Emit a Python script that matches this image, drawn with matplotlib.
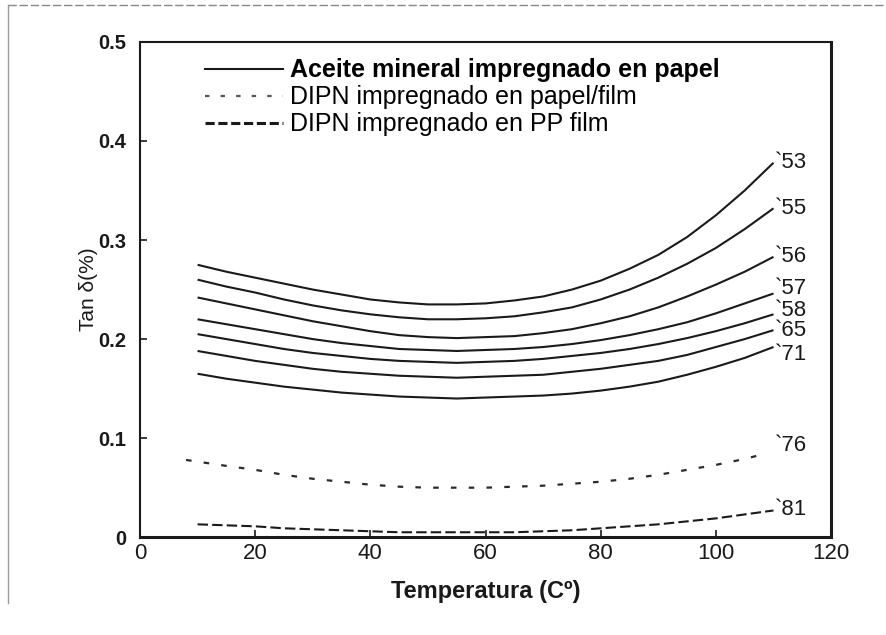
import matplotlib
matplotlib.use('Agg')
from matplotlib import pyplot as plt
from matplotlib.lines import Line2D

plt.rcParams['font.family'] = ['Liberation Sans', 'DejaVu Sans']

# temperature (C)
temp = [10, 15, 20, 25, 30, 35, 40, 45, 50, 55, 60, 65, 70, 75, 80, 85, 90, 95, 100, 105, 110]
temp_76 = [8, 15, 20, 25, 30, 35, 40, 45, 50, 55, 60, 65, 70, 75, 80, 85, 90, 95, 100, 105, 109]

# aceite mineral impregnado en papel
years_oil = ['`53', '`55', '`56', '`57', '`58', '`65', '`71']
tan_oil = [
    [0.275, 0.268, 0.262, 0.256, 0.250, 0.245, 0.240, 0.237, 0.235, 0.235, 0.236,
     0.239, 0.243, 0.250, 0.259, 0.271, 0.285, 0.303, 0.325, 0.350, 0.378],
    [0.260, 0.253, 0.247, 0.240, 0.234, 0.229, 0.225, 0.222, 0.220, 0.220, 0.221,
     0.223, 0.227, 0.232, 0.240, 0.250, 0.262, 0.276, 0.292, 0.311, 0.332],
    [0.242, 0.236, 0.230, 0.224, 0.218, 0.213, 0.208, 0.204, 0.202, 0.201, 0.202,
     0.203, 0.206, 0.210, 0.216, 0.223, 0.232, 0.243, 0.255, 0.268, 0.283],
    [0.220, 0.215, 0.210, 0.205, 0.200, 0.196, 0.193, 0.190, 0.189, 0.188, 0.189,
     0.190, 0.192, 0.195, 0.199, 0.204, 0.210, 0.217, 0.226, 0.236, 0.246],
    [0.205, 0.200, 0.195, 0.190, 0.186, 0.183, 0.180, 0.178, 0.177, 0.176, 0.177,
     0.178, 0.180, 0.183, 0.186, 0.190, 0.195, 0.201, 0.208, 0.216, 0.225],
    [0.188, 0.183, 0.178, 0.174, 0.170, 0.167, 0.165, 0.163, 0.162, 0.161, 0.162,
     0.163, 0.164, 0.167, 0.170, 0.174, 0.178, 0.184, 0.192, 0.200, 0.209],
    [0.165, 0.160, 0.156, 0.152, 0.149, 0.146, 0.144, 0.142, 0.141, 0.140, 0.141,
     0.142, 0.143, 0.145, 0.148, 0.152, 0.157, 0.164, 0.172, 0.181, 0.192],
]
# DIPN papel/film ('76) and DIPN PP film ('81)
tan_76 = [0.078, 0.072, 0.068, 0.063, 0.059, 0.056, 0.053, 0.051, 0.050, 0.050, 0.050,
          0.051, 0.052, 0.054, 0.056, 0.059, 0.063, 0.068, 0.073, 0.079, 0.085]
tan_81 = [0.013, 0.012, 0.011, 0.009, 0.008, 0.007, 0.006, 0.005, 0.005, 0.005, 0.005,
          0.005, 0.006, 0.007, 0.009, 0.011, 0.013, 0.016, 0.019, 0.023, 0.027]

legend_labels = ['Aceite mineral impregnado en papel',
                 'DIPN impregnado en papel/film',
                 'DIPN impregnado en PP film']
xticks = [0, 20, 40, 60, 80, 100, 120]
yticks = [0, 0.1, 0.2, 0.3, 0.4, 0.5]
ytick_labels = ['0', '0.1', '0.2', '0.3', '0.4', '0.5']

fig = plt.figure(figsize=(8.86, 6.35), dpi=100)
ax = fig.add_axes([0.158, 0.154, 0.780, 0.780])

# label nudges so the years do not collide
oil_label_dy = [0.0, 0.0, 0.0, 0.005, 0.004, 0.0, -0.008]

for vals, yr, dy in zip(tan_oil, years_oil, oil_label_dy):
    ax.plot(temp, vals, color='#1a1a1a', lw=1.5, solid_capstyle='butt')
    ax.text(temp[-1] + 0.3, vals[-1] + dy, yr, fontsize=16, va='center', ha='left',
            color='#1a1a1a')

ax.plot(temp_76, tan_76, color='#2a2a2a', lw=1.6, linestyle=(0, (2.5, 5.5)))
ax.text(temp_76[-1] + 1.2, tan_76[-1] + 0.008, '`76', fontsize=16, va='center',
        ha='left', color='#1a1a1a')
ax.plot(temp, tan_81, color='#1a1a1a', lw=1.5, linestyle=(0, (5.0, 2.0)))
ax.text(temp[-1] + 0.3, tan_81[-1] + 0.001, '`81', fontsize=16, va='center',
        ha='left', color='#1a1a1a')

ax.set_xlim(0, 120)
ax.set_ylim(0, 0.5)
ax.set_xticks(xticks)
ax.set_xticklabels([str(t) for t in xticks], fontsize=16)
ax.set_yticks(yticks)
ax.set_yticklabels(ytick_labels, fontsize=14.5, fontweight='bold')
ax.tick_params(axis='both', direction='in', length=5, width=1.2, colors='#1a1a1a')
ax.tick_params(axis='y', pad=10)
ax.tick_params(axis='x', pad=4)
for side, w in [('left', 1.5), ('top', 1.5), ('right', 2.2), ('bottom', 2.2)]:
    ax.spines[side].set_linewidth(w)
    ax.spines[side].set_color('#1a1a1a')

ax.set_xlabel('Temperatura (Cº)', fontsize=17, fontweight='bold', labelpad=12,
              color='#1a1a1a')
ax.set_ylabel('Tan δ(%)', fontsize=15, labelpad=0, color='#1a1a1a')

handles = [
    Line2D([], [], color='#1a1a1a', lw=1.5),
    Line2D([], [], color='#555555', lw=1.6, linestyle=(0, (2.0, 5.0))),
    Line2D([], [], color='#1a1a1a', lw=2.2, linestyle=(0, (3.0, 1.2))),
]
leg = ax.legend(handles, legend_labels, loc='upper left', bbox_to_anchor=(0.062, 1.012),
                frameon=False, fontsize=18, handlelength=3.1, handletextpad=0.3,
                labelspacing=0.12)
leg.get_texts()[0].set_fontweight('bold')

# outer frame of the scanned figure
fig.add_artist(Line2D([0.009, 0.999], [0.992, 0.992], transform=fig.transFigure,
                      color='#888888', lw=1.0, linestyle=(0, (6, 2))))
fig.add_artist(Line2D([0.009, 0.009], [0.992, 0.05], transform=fig.transFigure,
                      color='#999999', lw=1.0))

fig.savefig('out.png', dpi=100, facecolor='white')
